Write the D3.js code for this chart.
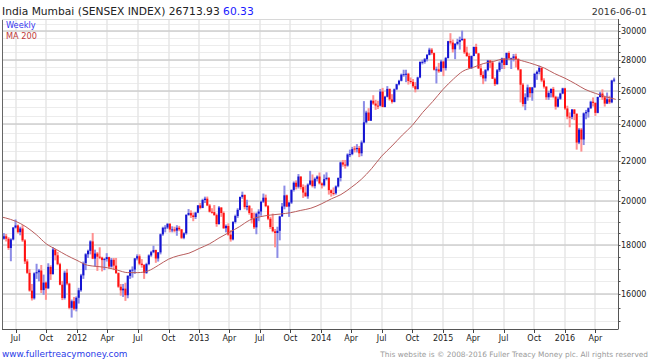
<html>
<head>
<meta charset="utf-8">
<script src="https://cdn.jsdelivr.net/npm/d3@7"></script>
<style>
  body { margin: 0; background: #fff; }
  text { font-family: "DejaVu Sans", Verdana, sans-serif; }
</style>
</head>
<body>
<div id="output"></div>
<script>
    var width = 650, height = 363;
    var plotLeft = 2, plotRight = 618, plotTop = 19, plotBottom = 329;

    var blue = '#1414d2', red = '#ff1010';
    var blueWick = '#8c8ce6', redWick = '#ff9090';
    var maColor = '#b85c5c';

    // weekly bars, first one dated 2011-05-27, one per week
    var firstWeek = new Date(2011, 4, 27);

    var opens = [
        18270,18377,18269,17871,18240,18763,18858,18561,18722,18197,17306,16840,16141,15848,16821,16867,16934,16162,16454,16232,17082,16786,17805,17562,17193,16371,15858,16847,16413,15491,15738,
        15455,15867,16155,16739,17234,17605,17749,18154,17423,17636,17503,17466,17362,17404,17486,17094,17373,17134,16831,16292,16153,16217,15965,16719,16949,16972,17430,17521,17213,17158,16839,17198,17557,17692,17783,17430,17683,18464,18752,18763,18938,18676,18682,18625,18755,18684,18309,18507,19340,19424,19317,19242,19444,
        19784,19664,20039,20103,19781,19485,19468,19331,18919,19683,19427,18736,18836,18450,18242,19016,19287,19575,20188,20286,19704,19760,19429,19177,18774,19396,19496,19958,20150,19748,19164,18789,18598,18519,18620,19270,19733,20264,19727,19916,20528,20883,20684,21196,20666,20399,20217,20792,20997,20716,21080,21194,
        20852,20758,21064,21134,20514,20377,20367,20701,21120,21920,21809,21755,22340,22359,22660,22629,22688,22404,22994,24122,24693,24217,25396,25228,25105,25100,25962,25024,25641,26126,25480,25329,26103,26419,26638,27027,27061,27090,26626,26567,26297,26108,26851,27866,27868,28046,28335,28694,28458,27351,27372,27242,
        27888,27458,28122,29279,29183,28718,29095,29231,29362,29449,28504,28262,27458,28260,28879,28442,27437,27011,26789,27325,27957,27828,26768,26425,27316,27811,28092,27661,28463,28112,28115,28236,28067,27366,26392,25202,25610,26219,25863,26221,27080,27214,27470,26657,26265,25610,25868,26128,25638,25044,25519,25839,
        26160,24934,24455,24435,24871,24617,22986,23709,23154,24646,24717,24952,25338,25269,24674,25627,25838,25607,25229,25490,25302,26654
    ];
    var highs = [
        18520,18480,18340,18290,18790,19131,18900,18800,18870,18250,17400,16990,16400,16860,17210,17000,17160,16770,16500,17230,17150,17900,17810,17700,17250,16520,16930,17000,16450,15800,15900,
        15920,16250,16800,17300,17650,17800,18200,18523,17800,17700,17900,17500,17450,17650,17500,17450,17450,17450,16860,16400,16400,16450,16750,16980,17100,17450,17600,17600,17400,17200,17250,17600,17750,17970,17800,17700,18500,18800,18870,18950,18950,18820,18800,18870,18840,18700,18550,19370,19612,19550,19450,19480,19800,
        19900,20100,20200,20204,19850,19650,19800,19400,19750,19700,19500,18900,18950,18650,19050,19350,19650,20200,20443,20300,20050,19800,19650,19450,19450,19600,20000,20350,20300,19800,19250,19400,18700,18800,19300,19900,20740,20300,19950,20550,20950,21000,21321,21200,20800,20750,20850,21483,21300,21150,21250,21400,
        20900,21300,21409,21150,20550,20650,20750,21150,21960,22050,22050,22400,22600,22750,22800,22900,22800,23100,25376,24800,24950,25450,25736,25450,25400,26123,26190,25700,26300,26150,25800,26150,26450,26700,27100,27350,27350,27150,26850,26750,26550,26900,27894,28010,28127,28400,28822,28800,28500,27550,27800,28000,
        27950,28200,29300,29844,29400,29150,29450,29600,30025,29450,28900,28450,28300,28900,29100,28450,27650,27250,27400,28000,28000,27950,26850,27400,27900,28150,28100,28500,28578,28150,28400,28417,28100,27400,26500,25850,26400,26250,26250,27150,27300,27618,27500,26800,26300,26000,26150,26250,25700,25650,25900,26200,
        26200,25100,24700,24900,24900,24650,23800,23800,24700,24850,25000,25400,25600,25300,25650,25950,26100,25700,25900,25700,26700,26840
    ];
    var lows = [
        18230,18150,17790,17314,18200,18720,18500,18420,18130,17200,16800,16100,15765,15800,16600,16500,16050,15980,15790,16200,16560,16780,17350,17150,16350,15780,15800,16350,15440,15135,15400,
        15360,15650,16100,16600,16950,17450,17600,17400,17100,16920,17400,16900,16950,17300,17000,17050,16950,16800,16250,15950,15900,15750,15850,16600,16650,16800,17350,17150,17050,16600,16800,17150,17500,17650,17250,17300,17600,18400,18550,18700,18550,18550,18550,18400,18600,18255,18250,18450,19300,19200,19050,19150,19420,
        19600,19650,19900,19750,19450,19400,19300,18800,18900,19250,18700,18550,18400,18144,18200,18950,19200,19550,20100,19600,19550,19350,18950,18700,18467,19050,19300,19900,19700,19100,18700,18550,17900,17448,18200,19250,19600,19700,19250,19850,20450,20550,20600,20550,20140,20200,20100,20750,20650,20600,20950,20800,
        20600,20700,21000,20300,20200,20250,20300,20650,20950,21700,21600,21700,22200,22300,22450,22450,22200,22250,22950,24050,24200,24200,25150,24850,24900,25050,25000,25000,25600,25400,25232,25300,26050,26350,26600,26900,26550,26400,26450,26200,25910,26100,26800,27700,27750,27900,28300,28350,27300,26469,27150,27200,
        26937,27300,28100,29050,28500,28050,29000,28700,29300,28400,28200,27450,27400,28250,28400,27400,26900,26425,26600,27250,27450,26750,26307,26400,27200,27400,27400,27650,28050,27400,27900,27500,27300,25298,25050,24833,25400,25600,25400,26200,26700,27050,26550,26150,25450,25450,25600,25550,24867,25000,25450,25800,
        24850,24300,23840,24300,24250,22600,22900,22494,22850,24300,24400,24900,25050,24500,24650,25600,25450,25050,25200,25200,25250,26550
    ];
    var closes = [
        18377,18269,17871,18240,18763,18858,18561,18722,18197,17306,16840,16141,15848,16821,16867,16934,16162,16454,16232,17082,16786,17805,17562,17193,16371,15858,16847,16413,15491,15738,15455,
        15867,16155,16739,17234,17605,17749,18154,17423,17636,17503,17466,17362,17404,17486,17094,17373,17134,16831,16292,16153,16217,15965,16719,16949,16972,17430,17521,17213,17158,16839,17198,17557,17692,17783,17430,17683,18464,18752,18763,18938,18676,18682,18625,18755,18684,18309,18507,19340,19424,19317,19242,19444,19784,
        19664,20039,20103,19781,19485,19468,19331,18919,19683,19427,18736,18836,18450,18242,19016,19287,19575,20188,20286,19704,19760,19429,19177,18774,19396,19496,19958,20150,19748,19164,18789,18598,18519,18620,19270,19733,20264,19727,19916,20528,20883,20684,21196,20666,20399,20217,20792,20997,20716,21080,21194,20852,
        20758,21064,21134,20514,20377,20367,20701,21120,21920,21809,21755,22340,22359,22628,22629,22688,22404,22994,24122,24693,24217,25396,25228,25105,25100,25962,25024,25641,26126,25480,25329,26103,26419,26638,27027,27061,27090,26626,26567,26297,26108,26851,27866,27868,28046,28335,28694,28458,27351,27372,27242,27888,
        27458,28122,29279,29183,28718,29095,29231,29362,29449,28504,28262,27458,28260,28879,28442,27437,27011,26789,27325,27957,27828,26768,26425,27316,27811,28092,27661,28463,28112,28115,28236,28067,27366,26392,25202,25610,26219,25863,26221,27080,27214,27470,26657,26265,25610,25868,26128,25638,25044,25519,25839,26160,
        24934,24455,24435,24871,24617,22986,23709,23154,24646,24717,24952,25338,25269,24674,25627,25838,25607,25229,25490,25302,26654,26713.93
    ];

    // MA 200 at each month start from 2011-05
    var maStart = new Date(2011, 4, 1);
    var maValues = [
        19300,19200,19050,18800,18450,18050,17800,17560,
        17350,17150,17100,17050,16950,16850,16850,16920,17150,17400,17550,17650,
        17850,18050,18300,18550,18800,19100,19250,19330,19380,19440,19550,19650,
        19850,20100,20300,20650,21050,21600,22250,22800,23400,23950,24700,25350,
        26100,26750,27250,27500,27750,27900,28050,28050,27900,27700,27450,27100,
        26800,26450,26100,25850,25650,25480
    ];

    var yMajor = [16000, 18000, 20000, 22000, 24000, 26000, 28000, 30000];
    var yMinor = d3.range(15000, 31000, 500);

    var svg = d3.select('#output').append('svg')
        .attr('width', width)
        .attr('height', height);

    var x = d3.scaleTime()
        .domain([new Date(2012, 0, 1), new Date(2016, 0, 1)])
        .range([77, 565]);
    var y = d3.scaleLog()
        .domain([16000, 30000])
        .range([294.3, 31]);

    svg.append('clipPath').attr('id', 'plot')
        .append('rect')
        .attr('x', plotLeft).attr('y', plotTop)
        .attr('width', plotRight - plotLeft).attr('height', plotBottom - plotTop);

    var quarters = d3.timeMonth.every(3).range(new Date(2011, 6, 1), new Date(2016, 5, 1));

    // grid
    var grid = svg.append('g').attr('clip-path', 'url(#plot)');
    grid.selectAll('.minor').data(yMinor).enter().append('line')
        .attr('x1', plotLeft).attr('x2', plotRight)
        .attr('y1', d => Math.round(y(d)) + 0.5).attr('y2', d => Math.round(y(d)) + 0.5)
        .attr('stroke', '#ececec');
    grid.selectAll('.vline').data(quarters).enter().append('line')
        .attr('x1', d => Math.round(x(d))).attr('x2', d => Math.round(x(d)))
        .attr('y1', plotTop).attr('y2', plotBottom)
        .attr('stroke', '#e6e6e6').attr('stroke-width', 1.5);
    grid.selectAll('.major').data(yMajor).enter().append('line')
        .attr('x1', plotLeft).attr('x2', plotRight)
        .attr('y1', d => Math.round(y(d))).attr('y2', d => Math.round(y(d)))
        .attr('stroke', '#cfcfcf').attr('stroke-width', 1.5);

    // bars
    var bars = closes.map((c, i) => ({
        date: d3.timeDay.offset(firstWeek, 7 * i),
        o: opens[i], h: highs[i], l: lows[i], c: c
    }));

    var plot = svg.append('g').attr('clip-path', 'url(#plot)');
    plot.selectAll('.wick').data(bars).enter().append('rect')
        .attr('x', d => x(d.date) - 1)
        .attr('width', 2)
        .attr('y', d => y(d.h))
        .attr('height', d => y(d.l) - y(d.h))
        .attr('fill', d => d.c >= d.o ? blueWick : redWick);
    plot.selectAll('.body').data(bars).enter().append('rect')
        .attr('x', d => x(d.date) - 1)
        .attr('width', 2)
        .attr('y', d => y(Math.max(d.o, d.c)))
        .attr('height', d => Math.max(1, Math.abs(y(d.o) - y(d.c))))
        .attr('fill', d => d.c >= d.o ? blue : red);

    // moving average
    var ma = maValues.map((v, i) => ({date: d3.timeMonth.offset(maStart, i), v: v}));
    plot.append('path')
        .datum(ma)
        .attr('d', d3.line().x(d => x(d.date)).y(d => y(d.v)).curve(d3.curveMonotoneX))
        .attr('fill', 'none')
        .attr('stroke', maColor)
        .attr('stroke-width', 1);

    // frame
    svg.append('line').attr('x1', plotLeft + 0.5).attr('x2', plotLeft + 0.5).attr('y1', plotTop).attr('y2', plotBottom)
        .attr('stroke', '#666');
    svg.append('line').attr('x1', plotLeft).attr('x2', plotRight).attr('y1', plotTop + 0.5).attr('y2', plotTop + 0.5)
        .attr('stroke', '#d8d8d8');
    svg.append('line').attr('x1', plotLeft).attr('x2', plotRight + 0.5).attr('y1', plotBottom + 0.5).attr('y2', plotBottom + 0.5)
        .attr('stroke', '#555');
    svg.append('line').attr('x1', plotRight + 0.5).attr('x2', plotRight + 0.5).attr('y1', plotTop).attr('y2', plotBottom)
        .attr('stroke', '#555');

    // right axis ticks
    svg.selectAll('.ytm').data(yMinor.filter(d => y(d) > plotTop && y(d) < plotBottom)).enter().append('line')
        .attr('x1', plotRight).attr('x2', plotRight + 2.5)
        .attr('y1', d => Math.round(y(d)) + 0.5).attr('y2', d => Math.round(y(d)) + 0.5)
        .attr('stroke', '#555');
    svg.selectAll('.ytl').data(yMajor).enter().append('text')
        .attr('x', plotRight + 3)
        .attr('y', d => y(d) + 3)
        .attr('font-size', 8)
        .attr('fill', '#222')
        .text(d => d);

    // bottom axis
    var fmt = d => d.getMonth() === 0 ? d3.timeFormat('%Y')(d) : d3.timeFormat('%b')(d);
    svg.selectAll('.xt').data(quarters).enter().append('line')
        .attr('x1', d => Math.round(x(d)) + 0.5).attr('x2', d => Math.round(x(d)) + 0.5)
        .attr('y1', plotBottom).attr('y2', plotBottom + 4)
        .attr('stroke', '#444');
    svg.selectAll('.xtl').data(quarters).enter().append('text')
        .attr('x', d => x(d))
        .attr('y', 341)
        .attr('text-anchor', 'middle')
        .attr('font-size', 8)
        .attr('fill', '#222')
        .text(fmt);

    // titles
    var title = svg.append('text').attr('x', 2).attr('y', 14.5).attr('font-size', 10.7).attr('fill', '#222');
    title.append('tspan').text('India Mumbai (SENSEX INDEX) 26713.93 ');
    title.append('tspan').attr('fill', '#1a1aff').text('60.33');
    svg.append('text').attr('x', 647).attr('y', 14.5).attr('text-anchor', 'end')
        .attr('font-size', 9.5).attr('fill', '#333').text('2016-06-01');

    svg.append('text').attr('x', 6).attr('y', 27.5).attr('font-size', 8.2).attr('fill', '#3535f0').text('Weekly');
    svg.append('text').attr('x', 6).attr('y', 38.5).attr('font-size', 8.2).attr('fill', '#c03a3a').text('MA 200');

    svg.append('text').attr('x', 2).attr('y', 357).attr('font-size', 8.9).attr('fill', '#2a3be8')
        .text('www.fullertreacymoney.com');
    svg.append('text').attr('x', 648).attr('y', 357).attr('text-anchor', 'end').attr('font-size', 7.4)
        .attr('fill', '#9a9a9a')
        .text('This website is \u00a9 2008-2016 Fuller Treacy Money plc. All rights reserved');
</script>
</body>
</html>
